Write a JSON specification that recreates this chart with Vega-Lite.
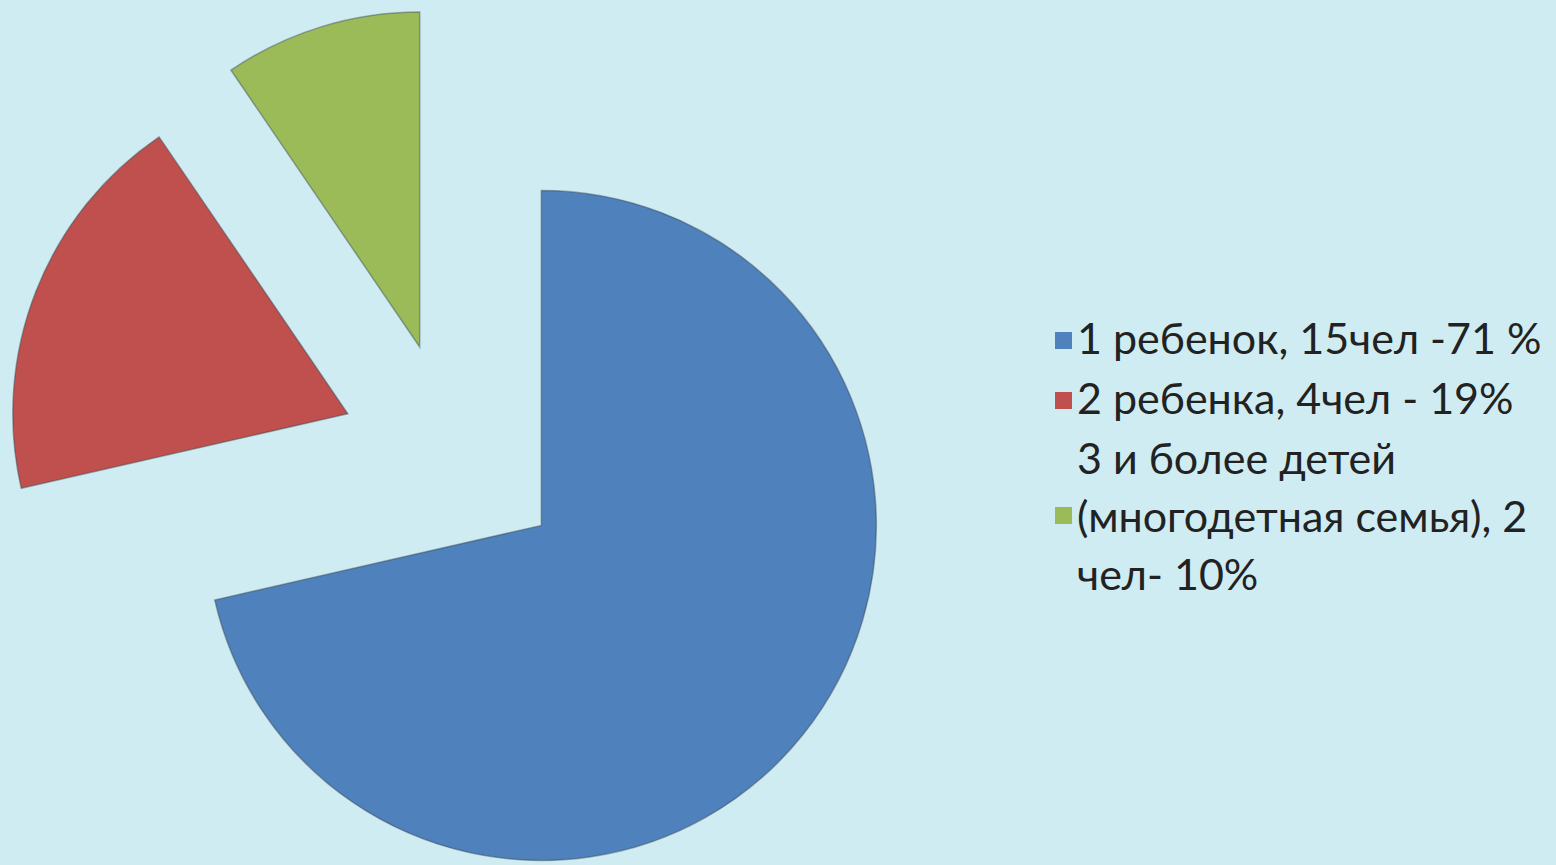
{
  "$schema": "https://vega.github.io/schema/vega-lite/v6.json",
  "width": 906,
  "height": 820,
  "autosize": {"type": "none"},
  "padding": {"left": 0, "top": 45, "right": 650, "bottom": 0},
  "background": "#cfecf2",
  "view": {"stroke": null},
  "config": {"style": {"guide-label": {"lineHeight": 58}}},
  "data": {
    "values": [
      {"label": "1 ребенок, 15чел -71 %", "n": 15},
      {"label": "2 ребенка, 4чел - 19%", "n": 4},
      {"label": "3 и более детей|(многодетная семья), 2|чел- 10%", "n": 2}
    ]
  },
  "mark": {
    "type": "arc",
    "radius": 335,
    "stroke": "#3a4a55",
    "strokeOpacity": 0.45,
    "strokeWidth": 1.5,
    "xOffset": {"expr": "113*sin((scale('theta', datum.n_start) + scale('theta', datum.n_end))/2)"},
    "yOffset": {"expr": "-113*cos((scale('theta', datum.n_start) + scale('theta', datum.n_end))/2)"}
  },
  "encoding": {
    "theta": {"field": "n", "type": "quantitative", "stack": true},
    "color": {
      "field": "label",
      "type": "nominal",
      "scale": {"range": ["#4f81bd", "#c0504d", "#9bbb59"]},
      "legend": {
        "title": null,
        "orient": "none",
        "legendX": 1042,
        "legendY": 274,
        "padding": 0,
        "rowPadding": 16,
        "symbolType": {"expr": "indexof(datum.value, '|') >= 0 ? 'M-1,5.47H1V7.47H-1Z' : 'square'"},
        "symbolSize": 289,
        "symbolStrokeWidth": 0,
        "symbolOffset": 0,
        "labelOffset": -8,
        "labelFont": "Lato",
        "labelFontSize": 43,
        "labelColor": "#222222",
        "labelLimit": 0,
        "labelExpr": "split(datum.label, '|')"
      }
    }
  }
}
